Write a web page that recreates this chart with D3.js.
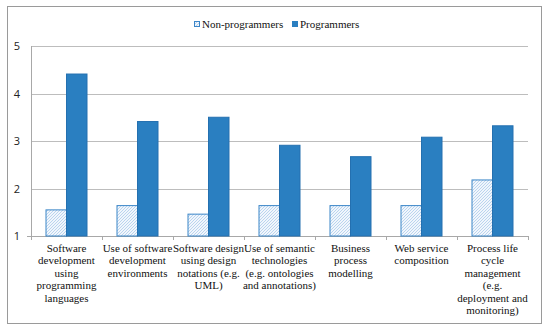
<html>
<head>
<script src="https://d3js.org/d3.v7.min.js"></script>
<style>
  body { margin: 0; background: #fff; }
</style>
</head>
<body>
<svg id="chart" width="550" height="333"></svg>
<script>
// data
var categories = [
  ["Software", "development", "using", "programming", "languages"],
  ["Use of software", "development", "environments"],
  ["Software design", "using design", "notations (e.g.", "UML)"],
  ["Use of semantic", "technologies", "(e.g. ontologies", "and annotations)"],
  ["Business", "process", "modelling"],
  ["Web service", "composition"],
  ["Process life", "cycle", "management", "(e.g.", "deployment and", "monitoring)"]
];
var nonProgrammers = [1.55, 1.64, 1.46, 1.64, 1.64, 1.64, 2.18];
var programmers = [4.41, 3.41, 3.5, 2.91, 2.67, 3.08, 3.32];
var seriesNames = ["Non-programmers", "Programmers"];
var yTicks = [1, 2, 3, 4, 5];

var serif = "'Liberation Serif', serif";
var svg = d3.select('#chart');
var plotLeft = 31, plotRight = 528, plotTop = 46, plotBottom = 236;

// outer frame
svg.append('rect')
    .attr('x', 7.5).attr('y', 6.5)
    .attr('width', 534).attr('height', 317)
    .attr('fill', '#fff')
    .attr('stroke', '#9a9a9a');

// fine wavy texture for non-programmers
var defs = svg.append('defs');
var pat = defs.append('pattern')
    .attr('id', 'hatch')
    .attr('patternUnits', 'userSpaceOnUse')
    .attr('width', 3).attr('height', 3);
pat.append('rect').attr('width', 3).attr('height', 3).attr('fill', '#f1f6fc');
pat.append('path')
    .attr('d', 'M0,3 L3,0')
    .attr('stroke', '#b3d0ec')
    .attr('stroke-width', 0.9);

var x = d3.scaleBand()
    .domain(d3.range(categories.length))
    .range([plotLeft, plotRight]);

var y = d3.scaleLinear().domain([1, 5]).range([plotBottom, plotTop]);

// gridlines
svg.append('g').selectAll('line')
    .data(yTicks.slice(1))
    .enter().append('line')
    .attr('x1', plotLeft).attr('x2', plotRight)
    .attr('y1', function(d) { return Math.round(y(d)) + 0.5; })
    .attr('y2', function(d) { return Math.round(y(d)) + 0.5; })
    .attr('stroke', '#bdbdbd');

// y axis labels
svg.append('g').selectAll('text')
    .data(yTicks)
    .enter().append('text')
    .attr('x', 20)
    .attr('y', function(d) { return y(d) + 4; })
    .attr('text-anchor', 'end')
    .attr('font-family', "'Open Sans', 'Liberation Sans', sans-serif")
    .attr('font-size', 11)
    .attr('fill', '#222')
    .text(function(d) { return d; });

// axis lines
svg.append('line')
    .attr('x1', plotLeft + 0.5).attr('x2', plotLeft + 0.5)
    .attr('y1', plotTop).attr('y2', plotBottom)
    .attr('stroke', '#a8a8a8');
svg.append('line')
    .attr('x1', plotLeft - 4).attr('x2', plotRight)
    .attr('y1', plotBottom + 0.5).attr('y2', plotBottom + 0.5)
    .attr('stroke', '#a8a8a8');
svg.append('g').selectAll('line')
    .data(d3.range(categories.length + 1))
    .enter().append('line')
    .attr('x1', function(i) { return Math.round(plotLeft + i * x.bandwidth()) + 0.5; })
    .attr('x2', function(i) { return Math.round(plotLeft + i * x.bandwidth()) + 0.5; })
    .attr('y1', plotBottom).attr('y2', plotBottom + 4)
    .attr('stroke', '#a8a8a8');

var barW = 20.5;
var bars = svg.append('g');
bars.selectAll('rect.np')
    .data(nonProgrammers)
    .enter().append('rect')
    .attr('class', 'np')
    .attr('x', function(d, i) { return x(i) + x.bandwidth() / 2 - barW; })
    .attr('y', function(d) { return y(d); })
    .attr('width', barW)
    .attr('height', function(d) { return y(1) - y(d); })
    .attr('fill', 'url(#hatch)')
    .attr('stroke', '#3b86c8')
    .attr('stroke-width', 1);

bars.selectAll('rect.p')
    .data(programmers)
    .enter().append('rect')
    .attr('class', 'p')
    .attr('x', function(d, i) { return x(i) + x.bandwidth() / 2; })
    .attr('y', function(d) { return y(d); })
    .attr('width', barW)
    .attr('height', function(d) { return y(1) - y(d); })
    .attr('fill', '#2a7fc1')
    .attr('stroke', '#2470b0')
    .attr('stroke-width', 1);

// category labels
categories.forEach(function(lines, i) {
    var cx = x(i) + x.bandwidth() / 2;
    var t = svg.append('text')
        .attr('x', cx)
        .attr('y', 252)
        .attr('font-family', serif)
        .attr('font-size', 11)
        .attr('fill', '#111')
        .attr('text-anchor', 'middle');
    lines.forEach(function(line, j) {
        t.append('tspan')
            .attr('x', cx)
            .attr('dy', j === 0 ? 0 : 12.4)
            .text(line);
    });
});

// legend
var legendX = [194, 292];
seriesNames.forEach(function(name, i) {
    svg.append('rect')
        .attr('x', legendX[i] + 0.5).attr('y', 21.5)
        .attr('width', 5).attr('height', 5)
        .attr('fill', i === 0 ? 'url(#hatch)' : '#2a7fc1')
        .attr('stroke', i === 0 ? '#3b86c8' : '#2a7fc1');
    svg.append('text')
        .attr('x', legendX[i] + 8).attr('y', 28)
        .attr('font-family', serif)
        .attr('font-size', 11)
        .attr('fill', '#111')
        .text(name);
});
</script>
</body>
</html>
